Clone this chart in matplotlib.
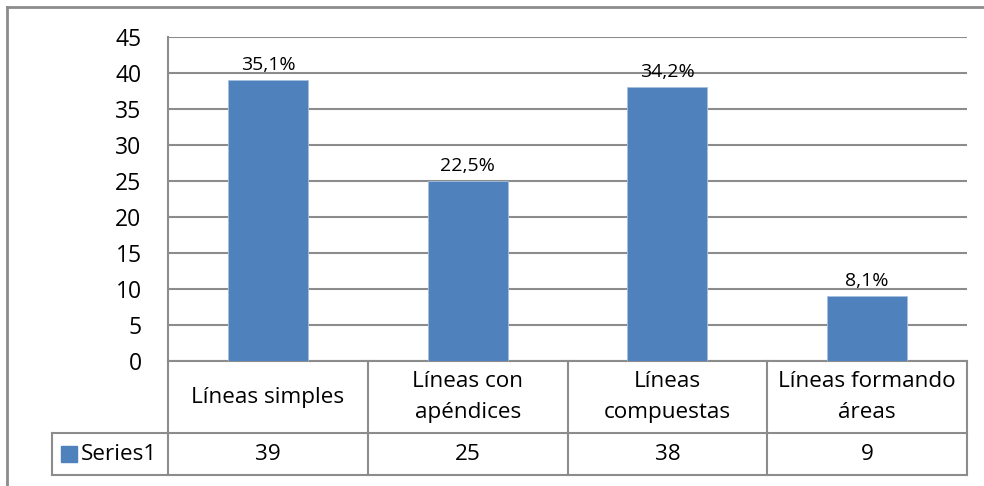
import matplotlib
matplotlib.use("Agg")
import matplotlib.pyplot as plt
from matplotlib.patches import Rectangle
from matplotlib.lines import Line2D

plt.rcParams['font.family'] = ['Open Sans', 'DejaVu Sans']

categories = ["Líneas simples", "Líneas con\napéndices", "Líneas\ncompuestas", "Líneas formando\náreas"]
values = [39, 25, 38, 9]
pct_labels = ["35,1%", "22,5%", "34,2%", "8,1%"]
series_name = "Series1"
y_ticks = [0, 5, 10, 15, 20, 25, 30, 35, 40, 45]

W, H = 984, 486
fig = plt.figure(figsize=(W / 100, H / 100), dpi=100)
fig.patch.set_facecolor("white")

grid_col = "#8c8c8c"
bar_col = "#4F81BD"
fs_main = 16.2
fs_tick = 16.5
fs_lab = 14

# outer chart border (top and left edges visible)
fig.add_artist(Line2D([7 / W, 7 / W], [0, 1 - 7 / H], color=grid_col, lw=2.0, transform=fig.transFigure))
fig.add_artist(Line2D([7 / W, 1.0], [1 - 7 / H, 1 - 7 / H], color=grid_col, lw=2.0, transform=fig.transFigure))

left, right, top, bottom = 168, 967, 37, 361
ax = fig.add_axes([left / W, 1 - bottom / H, (right - left) / W, (bottom - top) / H])
x = list(range(len(categories)))
ax.bar(x, values, width=0.4, color=bar_col, edgecolor="#a7c0de", linewidth=0.6, zorder=3)
ax.set_xlim(-0.5, len(categories) - 0.5)
ax.set_ylim(0, 45)
ax.set_yticks(y_ticks)
ax.set_yticklabels([str(t) for t in y_ticks], fontsize=fs_tick)
ax.tick_params(axis="y", length=0, pad=19)
ax.set_xticks([])
ax.grid(axis="y", color=grid_col, lw=1.5, zorder=0)
for s in ["top", "right", "bottom"]:
    ax.spines[s].set_visible(False)
ax.spines["left"].set_color(grid_col)
ax.spines["left"].set_linewidth(1.5)

for xi, v, lab in zip(x, values, pct_labels):
    ax.annotate(lab, (xi, v), xytext=(0, 4.5), textcoords="offset points",
                ha="center", va="bottom", fontsize=fs_lab)

# data table below the axis
trans = ax.get_xaxis_transform()
ph = bottom - top
r1 = -(433 - bottom) / ph
r2 = -(475 - bottom) / ph
x_leg = (52 - left) / ((right - left) / len(categories)) - 0.5
n = len(categories)
tbl_kw = dict(color=grid_col, lw=1.5, transform=trans, clip_on=False)
ax.add_line(Line2D([-0.5, n - 0.5], [0, 0], **tbl_kw))
ax.add_line(Line2D([x_leg, n - 0.5], [r1, r1], **tbl_kw))
ax.add_line(Line2D([x_leg, n - 0.5], [r2, r2], **tbl_kw))
ax.add_line(Line2D([x_leg, x_leg], [r1, r2], **tbl_kw))
for b in [i - 0.5 for i in range(n + 1)]:
    ax.add_line(Line2D([b, b], [0, r2], **tbl_kw))

for xi, cat, v in zip(x, categories, values):
    ax.text(xi, r1 / 2, cat, transform=trans, ha="center", va="center",
            fontsize=fs_main, linespacing=1.6, clip_on=False)
    ax.text(xi, (r1 + r2) / 2, str(v), transform=trans, ha="center", va="center",
            fontsize=fs_main, clip_on=False)

# legend key inside the table
ax.add_patch(Rectangle((x_leg + 0.045, (r1 + r2) / 2 - 0.024), 0.08, 0.048,
                       transform=trans, color=bar_col, clip_on=False))
ax.text(x_leg + 0.145, (r1 + r2) / 2, series_name, transform=trans, ha="left", va="center",
        fontsize=fs_main, clip_on=False)

fig.savefig("out.png", dpi=100, facecolor="white")
